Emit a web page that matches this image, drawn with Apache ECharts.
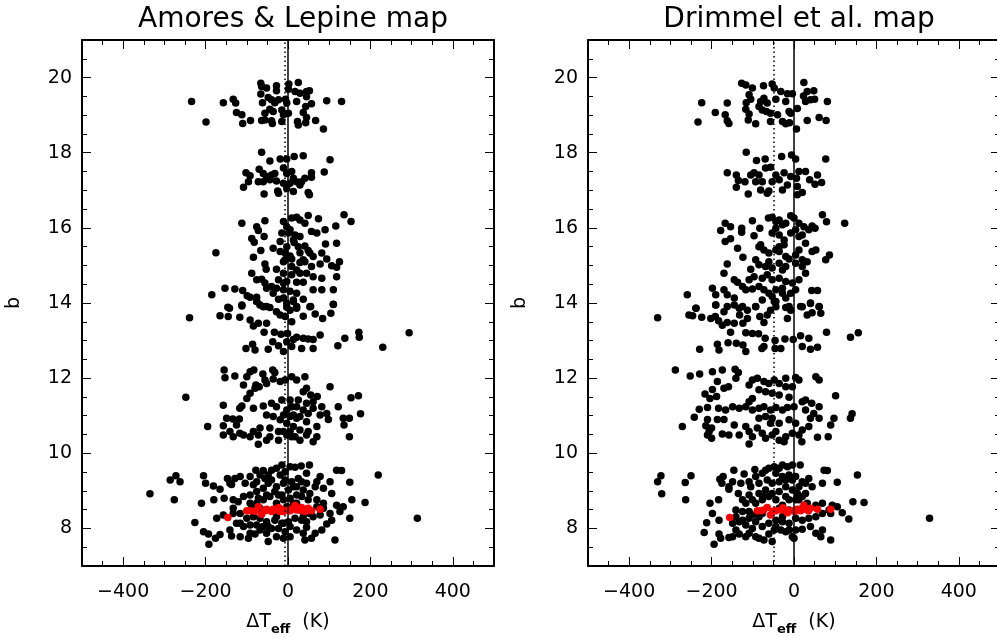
<!DOCTYPE html>
<html>
<head>
<meta charset="utf-8">
<script src="https://cdn.jsdelivr.net/npm/echarts@6/dist/echarts.min.js"></script>
<style>
html,body{margin:0;padding:0;background:#fff;}
#chart{width:997px;height:637px;}
</style>
</head>
<body>
<div id="chart"></div>
<script>
// ---------- tick / range settings ----------
const xRange = [-500, 500];
const yRange = [7, 21];
const xTickValues = [-400, -200, 0, 200, 400];
const yTickValues = [8, 10, 12, 14, 16, 18, 20];
const xMinorStep = 50;
const yMinorStep = 0.5;
const panelTitles = ['Amores & Lepine map', 'Drimmel et al. map'];
const solidLineX = [0, 0];
const dottedLineX = [-7, -48];

// ---------- Amores & Lepine: black points [dTeff, b] ----------
const amoresBlack = [
[-234,19.36],[-157,19.33],[-133,19.42],[-127,19.32],[-199,18.82],[-125,19.07],[-112,19.01],[-110,18.78],[-91,18.86],[-66,19.85],
[-64,19.76],[-52,19.72],[-28,19.78],[-28,19.65],[-66,19.56],[-48,19.47],[-40,19.41],[-32,19.33],[-23,19.41],[-62,19.33],
[-44,19.16],[-56,19.05],[-36,19.10],[-15,19.14],[-11,19.01],[-64,18.86],[-56,18.87],[-40,18.85],[-38,18.78],[-15,18.83],
[-6,19.42],[-3,19.32],[2,19.83],[1,19.69],[25,19.87],[17,19.63],[29,19.58],[45,19.63],[52,19.65],[45,19.49],
[57,19.30],[43,19.23],[37,19.07],[45,18.94],[23,18.83],[25,18.74],[43,18.80],[67,18.86],[86,18.63],[94,19.38],
[130,19.36],[1,19.05],[21,19.36],
[-64,18.01],[-44,17.78],[-19,17.83],[-3,17.83],[15,17.90],[37,17.92],[102,17.81],[88,17.49],[-102,17.47],[-92,17.39],
[-70,17.56],[-60,17.45],[-52,17.37],[-40,17.41],[-32,17.45],[-72,17.23],[-60,17.23],[-44,17.28],[-28,17.25],[-11,17.19],
[-3,17.14],[9,17.50],[13,17.32],[21,17.23],[33,17.23],[41,17.32],[57,17.47],[57,17.35],[-108,17.08],[-96,17.23],
[-58,16.90],[-25,16.98],[-23,16.92],[-3,17.05],[13,16.97],[49,16.94],[52,16.88],[-11,17.59],[-3,17.45],[5,17.19],[29,17.14],
[-112,16.12],[-76,16.03],[-56,16.19],[-72,15.93],[-88,15.72],[-82,15.62],[-58,15.77],[-11,16.17],[9,16.26],[21,16.28],
[29,16.21],[41,16.12],[49,16.33],[74,16.24],[136,16.35],[153,16.17],[116,16.05],[90,15.95],[70,15.86],[57,15.90],
[-3,16.03],[-15,15.86],[5,15.95],[17,15.81],[29,15.77],[-19,15.64],[-3,15.50],[15,15.61],[41,15.52],[91,15.57],
[118,15.59],[-175,15.34],[-84,15.22],[-66,15.40],[-36,15.46],[-19,15.37],[-7,15.33],[5,15.25],[29,15.34],[49,15.40],
[61,15.24],[82,15.33],[94,15.17],[125,15.10],[106,14.99],[118,14.95],[78,15.04],[57,14.97],[41,15.10],[29,15.08],
[9,15.17],[-11,15.10],[-28,14.90],[-56,15.04],[-53,14.90],[-88,14.79],[-76,14.62],[-64,14.63],[-11,14.79],[9,14.75],
[29,14.79],[45,14.79],[61,14.70],[82,14.66],[118,14.70],[-23,14.62],[-3,14.57],[21,14.55],[37,14.55],[61,14.35],
[82,14.35],[110,14.35],[-153,14.39],[-129,14.37],[-110,14.33],[-99,14.19],[-92,14.15],[-76,14.15],[-185,14.22],[-52,14.39],
[-40,14.44],[-28,14.39],[-11,14.35],[5,14.31],[21,14.26],[-76,14.04],[-68,13.95],[-52,13.91],[-146,13.89],[-112,13.92],
[-23,14.10],[-11,14.13],[13,14.08],[37,14.10],[55,13.91],[110,13.97],[21,13.91],[-3,13.89],
[1,15.86],[13,15.68],[25,15.50],[-7,15.15],[9,14.97],[21,14.88],[-11,14.53],[-36,14.26],[-56,14.53],[37,15.15],[53,15.33],
[-239,13.61],[-165,13.66],[-145,13.64],[-142,13.86],[-112,13.95],[-117,13.62],[-92,13.55],[-84,13.39],[-72,13.46],[-52,13.46],
[-76,14.04],[-60,13.90],[-44,13.88],[-28,13.77],[-19,13.68],[-7,13.64],[5,13.81],[21,13.86],[37,13.65],[53,13.90],
[66,13.71],[84,13.59],[104,13.73],[110,13.96],[-3,13.99],[13,14.04],[9,13.50],
[-58,13.22],[-33,13.22],[-17,13.17],[-1,13.19],[21,13.09],[37,13.06],[49,13.04],[61,13.03],[78,13.15],[138,13.06],
[172,13.22],[173,13.09],[294,13.21],[230,12.82],[121,12.86],[61,12.79],[33,12.79],[9,12.84],[-11,12.71],[-23,12.86],
[-37,12.97],[-48,12.77],[-80,12.75],[-102,12.79],[-86,12.90],[-3,12.97],[13,13.03],
[-155,12.22],[-153,12.01],[-129,12.06],[-100,12.04],[-92,12.17],[-83,12.22],[-61,12.11],[-37,12.22],[-32,12.15],[-56,11.95],
[-52,11.86],[-78,11.82],[-80,11.73],[-108,11.82],[-92,11.60],[-100,11.46],[-70,11.77],[-36,11.98],[-19,11.91],[-7,11.95],
[9,12.04],[21,11.95],[41,12.04],[45,11.73],[37,11.64],[55,11.55],[71,11.51],[61,11.37],[102,11.77],[153,11.48],
[171,11.53],[122,11.24],[94,11.06],[98,10.90],[134,10.93],[149,10.93],[136,10.75],[176,11.05],[-248,11.49],[-157,11.28],
[-117,11.20],[-112,11.26],[-84,11.20],[-60,11.26],[-40,11.33],[-28,11.24],[-15,11.42],[-3,11.15],[9,11.24],[21,11.24],
[37,11.15],[49,11.06],[61,11.20],[82,11.24],[78,11.02],[-149,10.93],[-134,10.91],[-118,10.91],[-157,10.73],[-125,10.75],
[-195,10.71],[-157,10.49],[-133,10.44],[-108,10.49],[-92,10.44],[-72,10.49],[-72,10.24],[-52,10.35],[-44,10.44],[-23,10.35],
[-3,10.49],[17,10.44],[29,10.35],[45,10.49],[61,10.31],[70,10.44],[49,10.58],[70,10.71],[149,10.44],[-52,11.02],
[-36,10.98],[-19,10.89],[-3,10.80],[13,10.71],[21,10.93],[45,10.84],[-44,10.67],[-68,10.67],[-84,10.58],[-23,10.58],
[5,10.58],[29,10.62],[-117,10.53],[-141,10.58],[-11,11.02],[5,10.98],
[5,11.42],[25,11.42],[45,11.33],[13,11.02],[29,10.98],[9,10.44],[-11,10.58],
[-335,8.92],[-286,9.29],[-272,9.40],[-262,9.24],[-276,8.76],[-205,9.40],[-200,9.20],[-181,9.13],[-165,9.04],[-147,9.33],
[-141,9.20],[-129,9.33],[-137,9.17],[-116,9.38],[-104,9.20],[-84,9.16],[-78,9.55],[-68,9.42],[-60,9.54],[-48,9.42],
[-40,9.55],[-28,9.60],[-15,9.69],[-7,9.51],[5,9.64],[17,9.63],[32,9.66],[52,9.69],[45,9.47],[25,9.33],
[13,9.11],[1,9.02],[-11,9.20],[-28,9.11],[-48,9.20],[-60,9.07],[-76,8.98],[-92,8.89],[-108,8.85],[-133,8.76],
[-155,8.80],[-180,8.76],[-210,8.67],[-226,8.16],[-205,7.91],[-193,7.85],[-192,7.58],[-176,7.74],[-165,7.84],[-141,7.96],
[-137,7.80],[-116,7.78],[-96,7.74],[-80,7.85],[-68,7.96],[-52,7.87],[-48,7.65],[-28,7.78],[-11,7.74],[-7,7.91],
[5,8.05],[21,7.96],[37,7.87],[41,7.69],[57,7.74],[66,7.87],[82,7.96],[94,8.12],[106,8.22],[114,7.69],
[150,8.27],[155,8.76],[187,8.69],[126,8.45],[118,8.62],[134,8.58],[86,8.67],[70,8.76],[53,8.93],[45,9.20],
[70,9.24],[78,9.38],[118,9.55],[130,9.54],[150,9.23],[219,9.42],[86,9.07],[106,8.93],[102,9.24],[66,9.11],
[314,8.27],[-173,8.27],[-157,8.36],[-133,8.40],[-116,8.40],[-100,8.27],[-84,8.31],[-68,8.27],[-52,8.18],[-32,8.22],
[-15,8.14],[1,8.18],[17,8.27],[33,8.22],[45,8.18],[61,8.31],[78,8.36],[102,8.40],[-121,8.71],[-92,8.67],
[-76,8.67],[-60,8.76],[-44,8.85],[-23,8.89],[-11,8.76],[21,8.89],[33,8.85],[49,8.76],[70,8.58],[86,8.54],
[-108,8.05],[-92,8.09],[-76,8.09],[-60,8.05],[-40,8.00],[-23,8.00],[-11,8.14],[-125,8.14],[45,8.03],[-3,8.58],
[13,8.67],[-28,8.67],[-52,8.49],[-68,8.54],[-92,8.49],[-133,8.54],[29,8.49],[53,8.40],
[-92,9.38],[-76,9.24],[-56,9.33],[-40,9.29],[-19,9.42],[-7,9.29],[9,9.24],[21,9.11],[33,9.24],[37,9.02],
[-32,8.98],[-15,8.89],[-52,8.89],[-72,8.80],[-84,8.58],[5,8.80],[21,8.67],[37,8.31],[-28,8.31],[-48,8.05],
[5,7.78],[-92,7.87],[-116,8.14]
];

// ---------- Amores & Lepine: red points ----------
const amoresRed = [
[-146,8.29],[-100,8.47],[-92,8.47],[-80,8.46],[-72,8.58],[-64,8.38],[-56,8.47],[-52,8.51],[-40,8.45],[-36,8.51],
[-28,8.49],[-23,8.56],[-19,8.45],[-15,8.51],[-11,8.45],[-5,8.49],[5,8.47],[9,8.51],[17,8.62],[21,8.49],
[29,8.49],[33,8.56],[41,8.45],[49,8.54],[78,8.51],[57,8.47]
];

// ---------- Drimmel et al.: black points ----------
const drimmelBlack = [
[-224,19.33],[-162,19.32],[-191,19.07],[-167,19.01],[-162,18.85],[-158,18.78],[-233,18.82],[-127,19.85],[-117,19.80],[-101,19.72],
[-74,19.78],[-53,19.83],[-48,19.72],[-32,19.63],[-16,19.57],[-4,19.57],[24,19.87],[32,19.63],[48,19.65],[23,19.51],
[28,19.36],[40,19.41],[50,19.42],[81,19.36],[-109,19.54],[-105,19.42],[-116,19.33],[-117,19.16],[-109,19.03],[-111,18.87],
[-93,18.77],[-81,19.36],[-73,19.45],[-65,19.32],[-77,19.14],[-67,19.10],[-57,19.05],[-44,19.42],[-40,19.01],[-20,19.36],
[-12,19.10],[-8,19.05],[8,19.18],[-57,18.83],[-28,18.83],[-20,18.77],[-11,18.80],[6,18.63],[32,18.86],[61,18.94],
[78,18.86],[-85,19.23],
[-116,18.01],[-91,17.79],[-70,17.83],[-30,17.90],[-6,17.94],[4,17.83],[77,17.83],[-162,17.47],[-140,17.41],[-135,17.26],
[-140,17.08],[-119,17.23],[-105,17.41],[-97,17.47],[-85,17.41],[-69,17.59],[-57,17.61],[-44,17.41],[-36,17.28],[-24,17.47],
[-8,17.37],[6,17.32],[12,17.50],[28,17.50],[38,17.28],[57,17.41],[67,17.21],[51,17.16],[-111,16.90],[-81,17.01],
[-65,16.92],[-61,16.98],[-28,17.01],[8,16.88],[20,16.94],[-16,17.14],[8,17.10],[-53,17.23],[-77,17.23],[-93,17.23],
[-167,16.12],[-154,16.03],[-178,15.93],[-167,15.64],[-154,15.71],[-127,15.99],[-127,15.88],[-101,16.19],[-97,15.79],[-83,15.99],
[-62,16.26],[-53,16.28],[-44,16.17],[-36,16.21],[-28,16.08],[-20,16.12],[-8,16.32],[0,16.26],[12,16.12],[24,16.03],
[36,15.95],[44,16.05],[51,15.99],[69,16.35],[79,16.16],[123,16.12],[-53,15.86],[-44,15.99],[-36,15.81],[-24,15.68],
[-8,15.86],[4,15.95],[12,15.77],[20,15.81],[28,15.59],[44,15.37],[53,15.41],[86,15.28],[77,15.15],[-162,15.04],
[-170,14.79],[-137,15.46],[-124,15.22],[-81,15.55],[-73,15.41],[-61,15.33],[-44,15.41],[-36,15.37],[-24,15.55],[-20,15.24],
[4,15.28],[12,15.41],[20,15.15],[32,15.10],[-93,15.15],[-85,15.02],[-61,15.10],[-53,14.93],[-36,15.06],[-28,14.88],
[-12,15.17],[4,15.06],[20,14.97],[28,14.79],[-105,14.90],[-145,14.62],[-137,14.55],[-125,14.44],[-109,14.62],[-97,14.70],
[-77,14.66],[-65,14.75],[-53,14.62],[-36,14.66],[-20,14.57],[-4,14.53],[12,14.62],[-117,14.35],[-101,14.37],[-85,14.44],
[-73,14.35],[-61,14.26],[-44,14.35],[-28,14.39],[-8,14.26],[4,14.35],[43,14.33],[57,14.33],[-259,14.22],[-198,14.39],
[-190,14.22],[-170,14.35],[-162,14.22],[-145,14.13],[-162,13.91],[-190,13.95],[-125,13.91],[-93,13.91],[-77,14.08],[-53,14.17],
[-44,14.04],[-20,14.13],[-12,13.91],[16,13.91],[40,14.00],[61,13.91],[-238,13.86],
[-36,15.50],[-20,14.97],[-69,14.97],[-85,15.50],[-28,14.26],
[-331,13.61],[-255,13.68],[-246,13.66],[-224,13.62],[-202,13.59],[-191,13.64],[-183,13.53],[-174,13.41],[-162,13.48],[-145,13.46],
[-124,13.46],[-132,13.68],[-113,13.81],[-93,13.90],[-83,13.64],[-73,13.48],[-65,13.68],[-57,13.81],[-44,13.90],[-48,14.04],
[-20,13.88],[-8,13.81],[-16,13.59],[20,13.90],[32,13.68],[44,13.74],[65,13.73],[61,13.90],[40,13.99],[-238,13.86],
[-190,13.95],[-170,13.77],[-145,13.95],[-133,13.86],[-113,13.59],
[-154,13.22],[-117,13.21],[-101,13.19],[-86,13.18],[-70,13.06],[-78,12.79],[-73,12.84],[-46,13.00],[-22,13.04],[-2,13.03],
[16,13.13],[36,13.06],[20,12.84],[40,12.77],[57,12.82],[79,13.22],[137,13.09],[156,13.21],[-229,12.77],[-182,12.75],
[-186,12.90],[-160,12.94],[-140,12.93],[-124,12.88],[-117,12.71],[-46,12.79],[-32,12.79],
[-288,12.22],[-252,12.06],[-229,12.11],[-198,12.17],[-174,12.22],[-143,12.24],[-135,12.15],[-141,12.00],[-186,11.91],[-198,11.70],
[-216,11.58],[-204,11.46],[-188,11.51],[-170,11.73],[-159,11.77],[-109,11.82],[-101,11.95],[-89,12.00],[-73,11.91],[-61,11.86],
[-48,11.95],[-36,11.86],[-20,12.00],[4,12.02],[12,11.95],[53,12.04],[61,11.95],[-4,11.77],[-20,11.77],[101,11.53],
[-12,11.49],[-36,11.55],[-53,11.60],[-69,11.64],[-85,11.69],[-101,11.46],[-109,11.37],[-230,11.17],[-210,11.22],[-183,11.20],
[-166,11.15],[-149,11.24],[-133,11.20],[-117,11.24],[-101,11.15],[-85,11.20],[-73,11.24],[-57,11.15],[-44,11.22],[-28,11.15],
[-16,11.22],[0,11.24],[20,11.37],[28,11.42],[43,11.33],[61,11.24],[28,11.15],[48,11.06],[40,10.93],[61,10.93],
[97,10.93],[137,10.93],[141,11.05],[-242,10.96],[-210,10.90],[-186,10.90],[-170,10.90],[-271,10.71],[-214,10.73],[-200,10.67],
[-206,10.58],[-210,10.49],[-200,10.40],[-174,10.51],[-158,10.49],[-145,10.75],[-133,10.49],[-117,10.71],[-109,10.58],[-101,10.44],
[-89,10.67],[-77,10.53],[-69,10.40],[-53,10.49],[-36,10.35],[-20,10.44],[-4,10.53],[12,10.49],[20,10.62],[4,10.80],
[-12,10.89],[-36,10.80],[-53,10.93],[-69,10.98],[-85,10.93],[-109,10.25],[19,10.31],[57,10.43],[83,10.44],[89,10.75],
[36,10.71],[-24,10.31],[-44,10.58],[-57,10.80],
[-331,9.24],[-323,9.40],[-321,8.92],[-264,9.22],[-263,8.76],[-250,9.40],[-204,8.67],[-183,8.76],[-180,9.31],[-172,9.38],
[-175,9.20],[-158,9.11],[-158,9.04],[-146,9.55],[-149,9.24],[-135,8.93],[-121,9.45],[-109,9.24],[-105,9.11],[-95,9.57],
[-93,9.38],[-77,9.47],[-69,9.55],[-61,9.60],[-48,9.64],[-36,9.60],[-28,9.69],[-16,9.64],[-4,9.69],[15,9.69],
[-44,9.47],[-28,9.38],[-12,9.42],[4,9.38],[20,9.24],[36,9.33],[44,9.11],[28,8.93],[12,8.76],[-4,9.02],
[-20,9.11],[-36,8.98],[-53,9.20],[-69,9.02],[-85,8.93],[-101,8.76],[-117,8.67],[-109,8.45],[-93,8.67],[-77,8.76],
[-61,8.85],[-44,8.76],[-28,8.62],[4,8.76],[32,8.67],[53,8.62],[69,9.20],[73,9.55],[81,9.54],[105,9.23],
[154,9.42],[69,8.67],[93,8.62],[105,8.58],[133,8.25],[143,8.71],[170,8.69],[89,8.40],[117,8.42],[329,8.27],
[-212,8.15],[-218,7.89],[-194,7.58],[-178,7.74],[-182,7.85],[-158,7.76],[-149,7.78],[-141,7.96],[-133,7.85],[-117,7.78],
[-109,7.87],[-101,8.00],[-93,7.78],[-85,7.74],[-73,7.69],[-61,7.85],[-53,7.65],[-48,7.96],[-32,7.96],[-20,7.91],
[-4,7.78],[0,7.74],[4,7.96],[20,7.98],[40,8.05],[53,7.87],[65,7.78],[69,7.96],[89,7.69],[-198,8.40],
[-182,8.22],[-141,8.31],[-125,8.22],[-109,8.27],[-93,8.18],[-77,8.05],[-61,8.14],[-44,8.22],[-28,8.18],[-12,8.14],
[4,8.27],[20,8.22],[36,8.27],[53,8.31],[69,8.40],[85,8.49],[-125,8.45],[-141,8.49],[-133,8.18],[-28,8.31],
[-85,8.31],[-109,8.89],[-125,8.76],[-129,9.20],[20,8.54],[-12,8.49],[8,8.93],[-4,9.29],[-20,8.85],[-36,8.54],
[-85,9.20],[-65,9.29],[-36,9.24],[-20,9.29],[12,9.11],[28,9.20],[-73,8.85],[-53,8.93],[-12,8.76],[20,8.85],
[-77,8.40],[-101,8.36],[-44,8.05],[-12,7.96],[-117,8.09],[-149,8.14]
];

// ---------- Drimmel et al.: red points ----------
const drimmelRed = [
[-156,8.29],[-89,8.47],[-81,8.47],[-74,8.49],[-65,8.56],[-57,8.36],[-51,8.46],[-44,8.47],[-32,8.49],[-27,8.55],
[-20,8.49],[-16,8.42],[-12,8.47],[-2,8.47],[2,8.45],[8,8.51],[16,8.47],[24,8.62],[28,8.51],[35,8.47],
[40,8.54],[57,8.51],[89,8.51]
];

// ---------- chart ----------
const FONT = 'DejaVu Sans';
const grids = [
  {left: 82, top: 40, width: 412, height: 526, outerBoundsMode: 'none', containLabel: false},
  {left: 588, top: 40, width: 412, height: 526, outerBoundsMode: 'none', containLabel: false}
];

const xAxes = [], yAxes = [];
grids.forEach((g, gi) => {
  xAxes.push({
    gridIndex: gi, type: 'value', position: 'bottom', min: xRange[0], max: xRange[1],
    axisLine: {show: true, onZero: false, lineStyle: {color: '#000', width: 2}},
    axisTick: {show: true, inside: true, length: 9, lineStyle: {color: '#000', width: 1}, customValues: xTickValues},
    axisLabel: {show: true, customValues: xTickValues, color: '#000', fontSize: 19, fontFamily: FONT, margin: 17,
      formatter: v => (v < 0 ? '\u2212' + Math.abs(v) : String(v))},
    splitLine: {show: false},
    name: '{a|\u0394T}{s|eff}{a|  (K)}', nameLocation: 'middle', nameGap: 47,
    nameTextStyle: {color: '#000', fontFamily: FONT,
      rich: {a: {fontSize: 19, fontFamily: FONT, color: '#000', verticalAlign: 'top', lineHeight: 25},
             s: {fontSize: 13, fontWeight: 'bold', fontFamily: FONT, color: '#000', verticalAlign: 'top', padding: [10, 0, 0, 0], lineHeight: 25}}}
  });
  xAxes.push({
    gridIndex: gi, type: 'value', position: 'top', min: xRange[0], max: xRange[1],
    axisLine: {show: true, onZero: false, lineStyle: {color: '#000', width: 2}},
    axisTick: {show: true, inside: true, length: 9, lineStyle: {color: '#000', width: 1}, customValues: xTickValues},
    axisLabel: {show: false}, splitLine: {show: false}
  });
  xAxes.push({
    gridIndex: gi, type: 'value', position: 'bottom', min: xRange[0], max: xRange[1], interval: xMinorStep,
    axisLine: {show: false, onZero: false},
    axisTick: {show: true, inside: true, length: 5, lineStyle: {color: '#000', width: 1}},
    axisLabel: {show: false}, splitLine: {show: false}
  });
  xAxes.push({
    gridIndex: gi, type: 'value', position: 'top', min: xRange[0], max: xRange[1], interval: xMinorStep,
    axisLine: {show: false, onZero: false},
    axisTick: {show: true, inside: true, length: 5, lineStyle: {color: '#000', width: 1}},
    axisLabel: {show: false}, splitLine: {show: false}
  });

  yAxes.push({
    gridIndex: gi, type: 'value', position: 'left', min: yRange[0], max: yRange[1],
    axisLine: {show: true, onZero: false, lineStyle: {color: '#000', width: 2}},
    axisTick: {show: true, inside: true, length: 9, lineStyle: {color: '#000', width: 1}, customValues: yTickValues},
    axisLabel: {show: true, customValues: yTickValues, color: '#000', fontSize: 19, fontFamily: FONT, margin: 10},
    splitLine: {show: false},
    name: 'b', nameLocation: 'middle', nameGap: 58, nameRotate: 90,
    nameTextStyle: {color: '#000', fontSize: 19, fontFamily: FONT}
  });
  yAxes.push({
    gridIndex: gi, type: 'value', position: 'right', min: yRange[0], max: yRange[1],
    axisLine: {show: true, onZero: false, lineStyle: {color: '#000', width: 2}},
    axisTick: {show: true, inside: true, length: 9, lineStyle: {color: '#000', width: 1}, customValues: yTickValues},
    axisLabel: {show: false}, splitLine: {show: false}
  });
  yAxes.push({
    gridIndex: gi, type: 'value', position: 'left', min: yRange[0], max: yRange[1], interval: yMinorStep,
    axisLine: {show: false, onZero: false},
    axisTick: {show: true, inside: true, length: 5, lineStyle: {color: '#000', width: 1}},
    axisLabel: {show: false}, splitLine: {show: false}
  });
  yAxes.push({
    gridIndex: gi, type: 'value', position: 'right', min: yRange[0], max: yRange[1], interval: yMinorStep,
    axisLine: {show: false, onZero: false},
    axisTick: {show: true, inside: true, length: 5, lineStyle: {color: '#000', width: 1}},
    axisLabel: {show: false}, splitLine: {show: false}
  });
});

function scatter(gi, data, color, z) {
  return {
    type: 'scatter', xAxisIndex: 4 * gi, yAxisIndex: 4 * gi, data: data,
    symbol: 'circle', symbolSize: 7.5, itemStyle: {color: color, opacity: 1},
    z: z, silent: true
  };
}
function refLines(gi) {
  return {
    type: 'scatter', xAxisIndex: 4 * gi, yAxisIndex: 4 * gi, data: [], z: 5, silent: true,
    markLine: {
      silent: true, symbol: 'none', animation: false, label: {show: false},
      data: [
        {xAxis: solidLineX[gi], lineStyle: {type: 'solid', color: '#000', width: 1.5}},
        {xAxis: dottedLineX[gi], lineStyle: {type: [1.5, 3], color: '#000', width: 1.5}}
      ]
    }
  };
}

const option = {
  backgroundColor: '#fff',
  animation: false,
  title: [
    {text: panelTitles[0], left: 288, top: 1, textAlign: 'center',
     textStyle: {fontSize: 28, fontWeight: 'normal', color: '#000', fontFamily: FONT}},
    {text: panelTitles[1], left: 794, top: 1, textAlign: 'center',
     textStyle: {fontSize: 28, fontWeight: 'normal', color: '#000', fontFamily: FONT}}
  ],
  grid: grids,
  xAxis: xAxes,
  yAxis: yAxes,
  series: [
    scatter(0, amoresBlack, '#000', 2),
    scatter(0, amoresRed, '#ff0000', 3),
    refLines(0),
    scatter(1, drimmelBlack, '#000', 2),
    scatter(1, drimmelRed, '#ff0000', 3),
    refLines(1)
  ]
};

const chart = echarts.init(document.getElementById('chart'), null, {renderer: 'canvas'});
chart.setOption(option);
</script>
</body>
</html>
